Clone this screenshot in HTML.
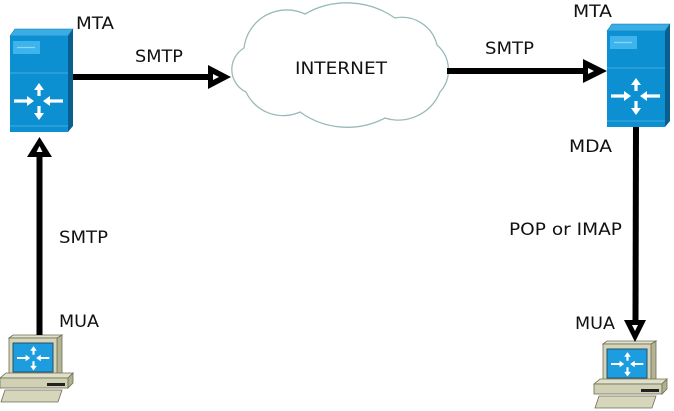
<!DOCTYPE html>
<html><head><meta charset="utf-8"><style>
html,body{margin:0;padding:0;background:#fff;width:674px;height:411px;overflow:hidden}
svg{display:block}
text{font-family:"DejaVu Sans","Liberation Sans",sans-serif;font-size:17px;fill:#111}
</style></head><body>
<svg width="674" height="411" viewBox="0 0 674 411" xmlns="http://www.w3.org/2000/svg">
<defs>
<g id="icon">
  <path d="M-25,-1.6 H-12 V-5 L-5,0 L-12,5 V1.6 H-25 Z" fill="#fff"/>
  <path d="M24,-1.6 H11 V-5 L4,0 L11,5 V1.6 H24 Z" fill="#fff"/>
  <path d="M-1.6,-5 V-11 H-5 L0,-18 L5,-11 H1.6 V-5 Z" fill="#fff"/>
  <path d="M-1.6,5 V12 H-5 L0,19 L5,12 H1.6 V5 Z" fill="#fff"/>
</g>
<g id="mta">
  <polygon points="10,36 15,29 73,29 68,36" fill="#3aaee4" stroke="#0b72aa" stroke-width="0.6"/>
  <rect x="10" y="36" width="58" height="96" fill="#0c90d2"/>
  <polygon points="68,36 73,29 73,126 68,132" fill="#0a5f8f"/>
  <line x1="10" y1="73" x2="68" y2="73" stroke="#45ace0" stroke-width="1"/>
  <line x1="10" y1="126" x2="68" y2="126" stroke="#45ace0" stroke-width="1"/>
  <rect x="13" y="41" width="27" height="13" fill="#3db4ec"/>
  <line x1="17" y1="47.5" x2="35" y2="47.5" stroke="#8fd6f6" stroke-width="1.2"/>
  <use href="#icon" transform="translate(39,101)"/>
</g>
<g id="pc">
  <polygon points="57,338 62,335 62,373 57,377" fill="#b4b494" stroke="#6e6e56" stroke-width="0.8"/>
  <polygon points="9,338 13,335 62,335 57,338" fill="#e2e2cc" stroke="#6e6e56" stroke-width="0.8"/>
  <rect x="9" y="338" width="48" height="39" fill="#d4d4ba" stroke="#6e6e56" stroke-width="0.8"/>
  <rect x="13" y="343" width="40" height="29" fill="#1b9ddf" stroke="#2b4f66" stroke-width="1"/>
  <g transform="translate(33.5,358) scale(0.66)"><use href="#icon"/></g>
  <polygon points="0,378 6,373 73,373 68,378" fill="#e0e0ca" stroke="#6e6e56" stroke-width="0.8"/>
  <rect x="0" y="378" width="68" height="10" fill="#d0d0b4" stroke="#6e6e56" stroke-width="0.8"/>
  <polygon points="68,378 73,373 73,383 68,388" fill="#b0b090" stroke="#6e6e56" stroke-width="0.8"/>
  <rect x="47" y="383" width="18" height="3" fill="#222"/>
  <polygon points="5,390 62,390 58,402 1,402" fill="#d6d6bc" stroke="#6e6e56" stroke-width="0.8"/>
</g>
</defs>

<!-- cloud -->
<path d="M246,92 A25,25 0 0 1 244,48 A43,43 0 0 1 305,14 A84,84 0 0 1 395,18 A36,36 0 0 1 437,45 A33,33 0 0 1 440,92 A45,45 0 0 1 385,118 A81,81 0 0 1 300,112 A41,41 0 0 1 246,92 Z" fill="#fff" stroke="#9bb9b9" stroke-width="1.3"/>
<text x="295" y="74" textLength="92" lengthAdjust="spacingAndGlyphs">INTERNET</text>

<!-- MTAs -->
<use href="#mta"/>
<use href="#mta" transform="translate(597,-5)"/>

<!-- PCs -->
<use href="#pc"/>
<use href="#pc" transform="translate(594,6)"/>

<!-- arrow MTA -> Internet -->
<line x1="73" y1="77" x2="212" y2="77" stroke="#000" stroke-width="6"/>
<polygon points="208,65 231,77 208,89" fill="#000"/>
<polygon points="213,74 219,77 213,80" fill="#fff"/>

<!-- arrow Internet -> MTA -->
<line x1="447" y1="71" x2="587" y2="71" stroke="#000" stroke-width="6"/>
<polygon points="583,59 607,71 583,83" fill="#000"/>
<polygon points="588,68 594,71 588,74" fill="#fff"/>

<!-- left vertical arrow up -->
<line x1="39.5" y1="154" x2="39.5" y2="335" stroke="#000" stroke-width="6"/>
<polygon points="27,157 39.5,137 52,157" fill="#000"/>
<polygon points="36.5,152 39.5,146 42.5,152" fill="#fff"/>

<!-- right vertical arrow down -->
<line x1="636" y1="127" x2="635.5" y2="323" stroke="#000" stroke-width="6"/>
<polygon points="624,320 646,320 635,342" fill="#000"/>
<polygon points="632,325 638,325 635,331" fill="#fff"/>

<!-- labels -->
<text x="76" y="29" textLength="38" lengthAdjust="spacingAndGlyphs">MTA</text>
<text x="135" y="62" textLength="48" lengthAdjust="spacingAndGlyphs">SMTP</text>
<text x="485" y="54" textLength="49" lengthAdjust="spacingAndGlyphs">SMTP</text>
<text x="573" y="17" textLength="39" lengthAdjust="spacingAndGlyphs">MTA</text>
<text x="569" y="152" textLength="43" lengthAdjust="spacingAndGlyphs">MDA</text>
<text x="59" y="243" textLength="49" lengthAdjust="spacingAndGlyphs">SMTP</text>
<text x="509" y="235" textLength="113" lengthAdjust="spacingAndGlyphs">POP or IMAP</text>
<text x="59" y="327" textLength="40" lengthAdjust="spacingAndGlyphs">MUA</text>
<text x="575" y="329" textLength="40" lengthAdjust="spacingAndGlyphs">MUA</text>
</svg>
</body></html>
